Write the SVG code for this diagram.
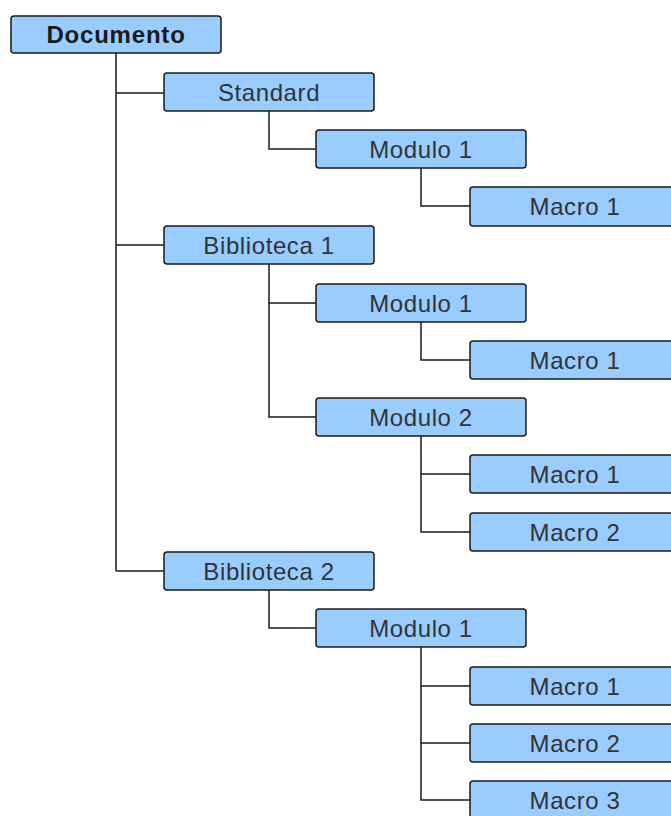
<svg xmlns="http://www.w3.org/2000/svg" width="671" height="816" viewBox="0 0 671 816">
  <style>
    .box { fill: #99ccff; stroke: #1a1a1a; stroke-width: 1.5; }
    .lbl { font-family: "Liberation Sans", Arial, sans-serif; font-size: 24px; fill: #333333; text-anchor: middle; letter-spacing: 0.6px; }
    .root { font-weight: bold; fill: #1a1a1a; letter-spacing: 0.8px; }
    .wire { fill: none; stroke: #1a1a1a; stroke-width: 1.5; }
  </style>
  <rect width="671" height="816" fill="#ffffff"/>

  <!-- connectors -->
  <g id="connectors" class="wire">
    <path d="M116 53 V571 M116 93 H164 M116 245 H164 M116 571 H164"/>
    <path d="M269 111 V149 H316"/>
    <path d="M421 168 V206 H470"/>
    <path d="M269 264 V417 H316 M269 303 H316"/>
    <path d="M421 322 V360 H470"/>
    <path d="M421 436 V532 H470 M421 474 H470"/>
    <path d="M269 590 V628 H316"/>
    <path d="M421 647 V800 H470 M421 686 H470 M421 743 H470"/>
  </g>

  <g id="documento"><rect class="box" x="11" y="16" width="210" height="37" rx="3"/><text class="lbl root" x="116" y="43">Documento</text></g>

  <g id="standard"><rect class="box" x="164" y="73" width="210" height="38" rx="3"/><text class="lbl" x="269" y="101">Standard</text></g>
  <g id="std-modulo1"><rect class="box" x="316" y="130" width="210" height="38" rx="3"/><text class="lbl" x="421" y="158">Modulo 1</text></g>
  <g id="std-mod1-macro1"><rect class="box" x="470" y="187" width="210" height="39" rx="3"/><text class="lbl" x="575" y="215">Macro 1</text></g>

  <g id="biblioteca1"><rect class="box" x="164" y="226" width="210" height="38" rx="3"/><text class="lbl" x="269" y="254">Biblioteca 1</text></g>
  <g id="b1-modulo1"><rect class="box" x="316" y="284" width="210" height="38" rx="3"/><text class="lbl" x="421" y="312">Modulo 1</text></g>
  <g id="b1-mod1-macro1"><rect class="box" x="470" y="341" width="210" height="38" rx="3"/><text class="lbl" x="575" y="369">Macro 1</text></g>
  <g id="b1-modulo2"><rect class="box" x="316" y="398" width="210" height="38" rx="3"/><text class="lbl" x="421" y="426">Modulo 2</text></g>
  <g id="b1-mod2-macro1"><rect class="box" x="470" y="455" width="210" height="38" rx="3"/><text class="lbl" x="575" y="483">Macro 1</text></g>
  <g id="b1-mod2-macro2"><rect class="box" x="470" y="513" width="210" height="38" rx="3"/><text class="lbl" x="575" y="541">Macro 2</text></g>

  <g id="biblioteca2"><rect class="box" x="164" y="552" width="210" height="38" rx="3"/><text class="lbl" x="269" y="580">Biblioteca 2</text></g>
  <g id="b2-modulo1"><rect class="box" x="316" y="609" width="210" height="38" rx="3"/><text class="lbl" x="421" y="637">Modulo 1</text></g>
  <g id="b2-mod1-macro1"><rect class="box" x="470" y="667" width="210" height="38" rx="3"/><text class="lbl" x="575" y="695">Macro 1</text></g>
  <g id="b2-mod1-macro2"><rect class="box" x="470" y="724" width="210" height="38" rx="3"/><text class="lbl" x="575" y="752">Macro 2</text></g>
  <g id="b2-mod1-macro3"><rect class="box" x="470" y="781" width="210" height="38" rx="3"/><text class="lbl" x="575" y="809">Macro 3</text></g>
</svg>
